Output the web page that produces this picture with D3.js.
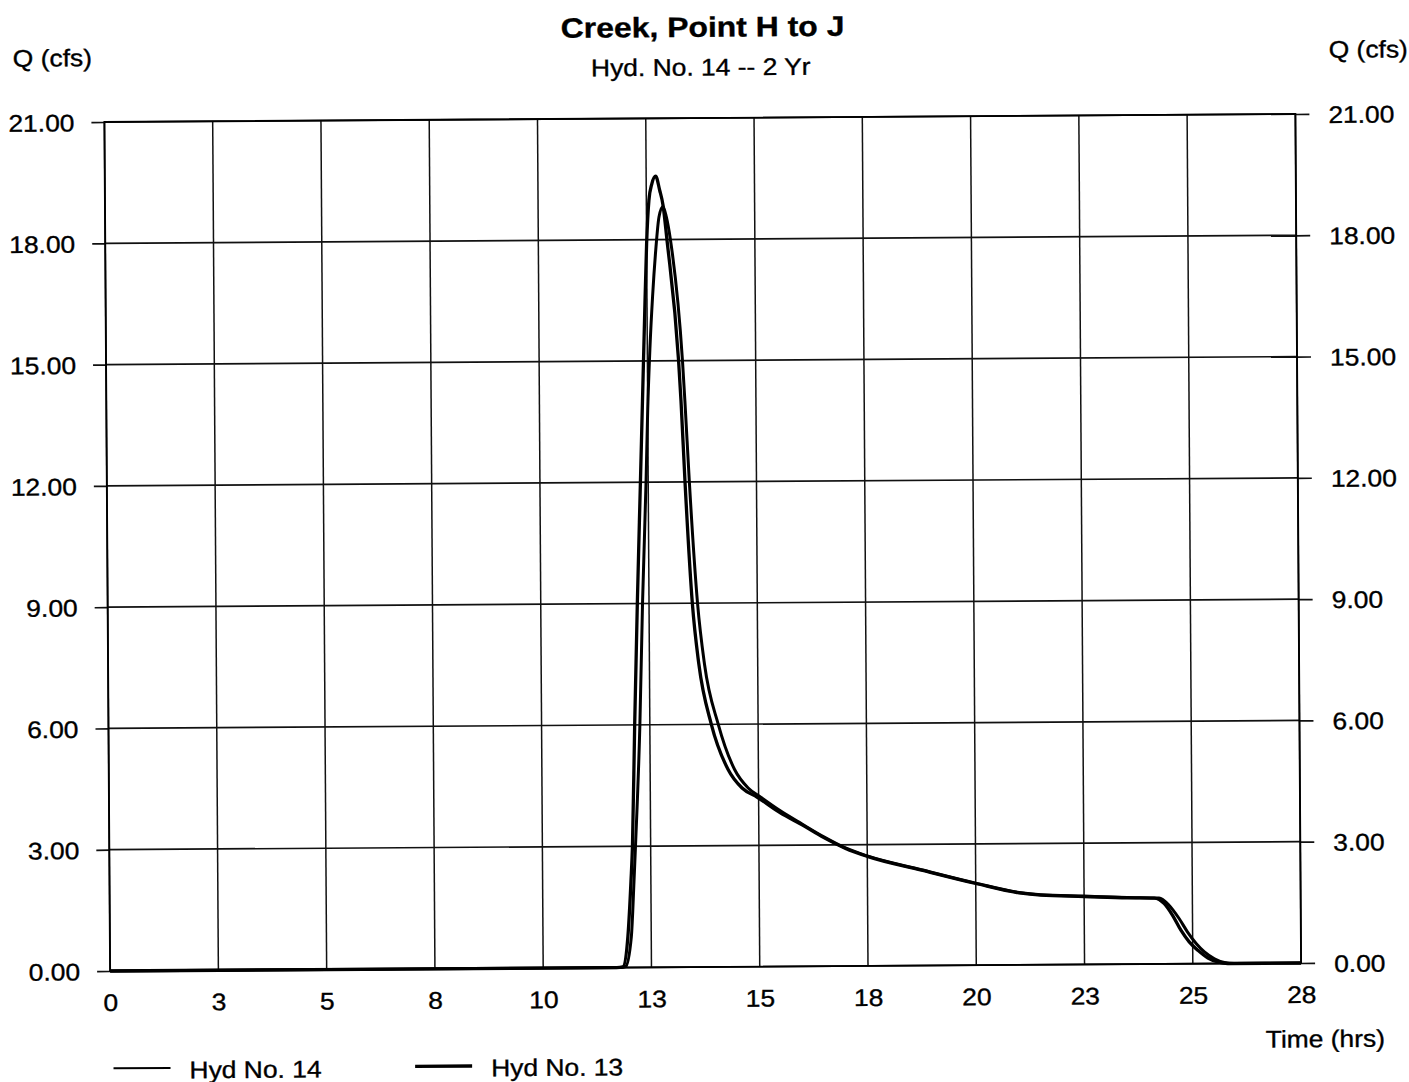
<!DOCTYPE html>
<html>
<head>
<meta charset="utf-8">
<script src="https://cdn.jsdelivr.net/npm/d3@7/dist/d3.min.js"></script>
<style>
  html, body { margin: 0; padding: 0; background: #fff; }
  svg { display: block; }
</style>
</head>
<body>
<script>
// ---------- DATA ----------
const titleText = "Creek, Point H to J";
const subtitleText = "Hyd. No. 14 -- 2 Yr";
const yAxisLabel = "Q (cfs)";
const xAxisLabel = "Time (hrs)";

const xTicks = [0, 2.5, 5, 7.5, 10, 12.5, 15, 17.5, 20, 22.5, 25, 27.5];
const xTickLabels = ["0", "3", "5", "8", "10", "13", "15", "18", "20", "23", "25", "28"];
const yTicks = [0, 3, 6, 9, 12, 15, 18, 21];

// Hyd No. 13 (inflow, higher earlier peak)
const hyd13Time = [0, 11.7, 11.84, 11.96, 12.04, 12.08, 12.15, 12.23, 12.32, 12.38, 12.44, 12.5, 12.56, 12.63, 12.72, 12.81, 12.885, 12.97, 13.22, 13.27, 13.35, 13.5, 13.64, 13.92, 14.3, 14.62, 14.97, 15.5, 16, 16.5, 17, 17.5, 18.75, 20, 21, 21.5, 22.5, 23.5, 24.12, 24.35, 24.54, 24.73, 24.92, 25.12, 25.35, 25.58, 25.81, 27.5];
const hyd13Q    = [0, 0, 0.02, 0.76, 2.13, 3, 6, 9, 12, 14, 16, 17.9, 18.97, 19.38, 19.57, 19.22, 18.85, 18, 15, 14, 12, 9, 7.5, 6, 4.88, 4.42, 4.19, 3.8, 3.5, 3.18, 2.91, 2.71, 2.36, 2.02, 1.78, 1.72, 1.68, 1.64, 1.63, 1.49, 1.2, 0.83, 0.54, 0.33, 0.14, 0.04, 0, 0];

// Hyd No. 14 (routed, lower later peak)
const hyd14Time = [0, 11.8, 11.9, 12.04, 12.11, 12.15, 12.27, 12.35, 12.45, 12.5, 12.56, 12.63, 12.71, 12.79, 12.885, 12.96, 13.05, 13.31, 13.36, 13.45, 13.62, 13.77, 14.08, 14.45, 14.76, 15.05, 15.5, 16, 16.5, 17, 17.5, 18.75, 20, 21, 21.5, 22.5, 23.5, 24.23, 24.46, 24.69, 24.88, 25.08, 25.27, 25.5, 25.73, 25.96, 27.5];
const hyd14Q    = [0, 0, 0.02, 0.76, 2.13, 3, 6, 9, 12, 13.8, 15.3, 16.6, 17.74, 18.56, 18.82, 18.56, 18, 15, 14, 12, 9, 7.5, 6, 4.88, 4.42, 4.19, 3.85, 3.52, 3.2, 2.92, 2.72, 2.37, 2.03, 1.79, 1.73, 1.69, 1.65, 1.63, 1.45, 1.12, 0.79, 0.5, 0.29, 0.12, 0.025, 0, 0];

const legendNames = ["Hyd No. 14", "Hyd No. 13"];

// ---------- LAYOUT ----------
const W = 1409, H = 1082;
const L = 107.25, R = 1298.25, T = 118, B = 967;
const CX = 702.75, CY = 542.5;
const FONT = "'Liberation Sans', Arial, Helvetica, sans-serif";
const SX = 1.1;

const svg = d3.select("body").append("svg").attr("width", W).attr("height", H);
svg.append("rect").attr("width", W).attr("height", H).attr("fill", "#fff");
const g = svg.append("g").attr("transform", `rotate(-0.385,${CX},${CY})`);

const x = d3.scaleLinear().domain([0, 27.5]).range([L, R]);
const y = d3.scaleLinear().domain([0, 21]).range([B, T]);

function label(px, py, str, anchor, size, weight, sx) {
  const gg = g.append("g").attr("transform", `translate(${px},${py}) scale(${sx},1)`);
  gg.append("text").attr("x", 0).attr("y", 0)
    .attr("text-anchor", anchor)
    .attr("font-family", FONT).attr("font-size", size).attr("font-weight", weight)
    .attr("fill", "#000").attr("stroke", "#000").attr("stroke-width", 0.35)
    .text(str);
}

// grid
g.append("g").selectAll("line").data(xTicks).join("line")
  .attr("x1", d => x(d)).attr("x2", d => x(d)).attr("y1", T).attr("y2", B)
  .attr("stroke", "#111").attr("stroke-width", 1.5);
g.append("g").selectAll("line").data(yTicks).join("line")
  .attr("x1", L).attr("x2", R).attr("y1", d => y(d)).attr("y2", d => y(d))
  .attr("stroke", "#111").attr("stroke-width", 1.7);

// axes
const yLeft = d3.axisLeft(y).tickValues(yTicks).tickSize(13).tickFormat(d3.format(".2f"));
const gl = g.append("g").attr("transform", `translate(${L},0)`).call(yLeft);
const yRight = d3.axisRight(y).tickValues(yTicks).tickSize(14).tickFormat(d3.format(".2f"));
const gr = g.append("g").attr("transform", `translate(${R},0)`).call(yRight);
const xAxis = d3.axisBottom(x).tickValues(xTicks).tickSize(0).tickFormat((d, i) => xTickLabels[i]);
const gx = g.append("g").attr("transform", `translate(0,${B})`).call(xAxis);

[gl, gr, gx].forEach(a => {
  a.select(".domain").remove();
  a.selectAll(".tick line").attr("stroke", "#111").attr("stroke-width", 1.7);
  a.selectAll(".tick text").attr("font-family", FONT).attr("font-size", 24).attr("fill", "#000")
    .attr("stroke", "#000").attr("stroke-width", 0.35);
});
gl.selectAll(".tick text").attr("x", -30 / SX).attr("dy", "0.36em").attr("transform", `scale(${SX},1)`);
gr.selectAll(".tick text").attr("x", 33 / SX).attr("dy", "0.36em").attr("transform", `scale(${SX},1)`);
gx.selectAll(".tick text").attr("y", 40).attr("dy", 0).attr("transform", `scale(${SX},1)`);

// border
g.append("rect").attr("x", L).attr("y", T).attr("width", R - L).attr("height", B - T)
  .attr("fill", "none").attr("stroke", "#000").attr("stroke-width", 1.9);

// series
const line = d3.line().x(d => x(d[0])).y(d => y(d[1])).curve(d3.curveMonotoneX);
const s13 = hyd13Time.map((t, i) => [t, hyd13Q[i]]);
const s14 = hyd14Time.map((t, i) => [t, hyd14Q[i]]);
g.append("path").datum(s14).attr("d", line).attr("fill", "none")
  .attr("stroke", "#000").attr("stroke-width", 3).attr("stroke-linejoin", "round");
g.append("path").datum(s13).attr("d", line).attr("fill", "none")
  .attr("stroke", "#000").attr("stroke-width", 3.3).attr("stroke-linejoin", "round");

// titles
label(706, 36.7, titleText, "middle", 28, "bold", 1.14);
label(704, 75.5, subtitleText, "middle", 24, "normal", SX);
label(16, 62, yAxisLabel, "start", 24, "normal", SX);
label(1332, 62, yAxisLabel, "start", 24, "normal", SX);
label(1381.6, 1051.3, xAxisLabel, "end", 24, "normal", SX);

// legend
const legendX = [110, 411.6];
const legendW = [2, 3.4];
legendNames.forEach((n, i) => {
  g.append("line").attr("x1", legendX[i]).attr("x2", legendX[i] + 57)
    .attr("y1", 1064.4).attr("y2", 1064.4).attr("stroke", "#000").attr("stroke-width", legendW[i]);
  label(legendX[i] + 76, 1074.8, n, "start", 24, "normal", SX);
});
</script>
</body>
</html>
